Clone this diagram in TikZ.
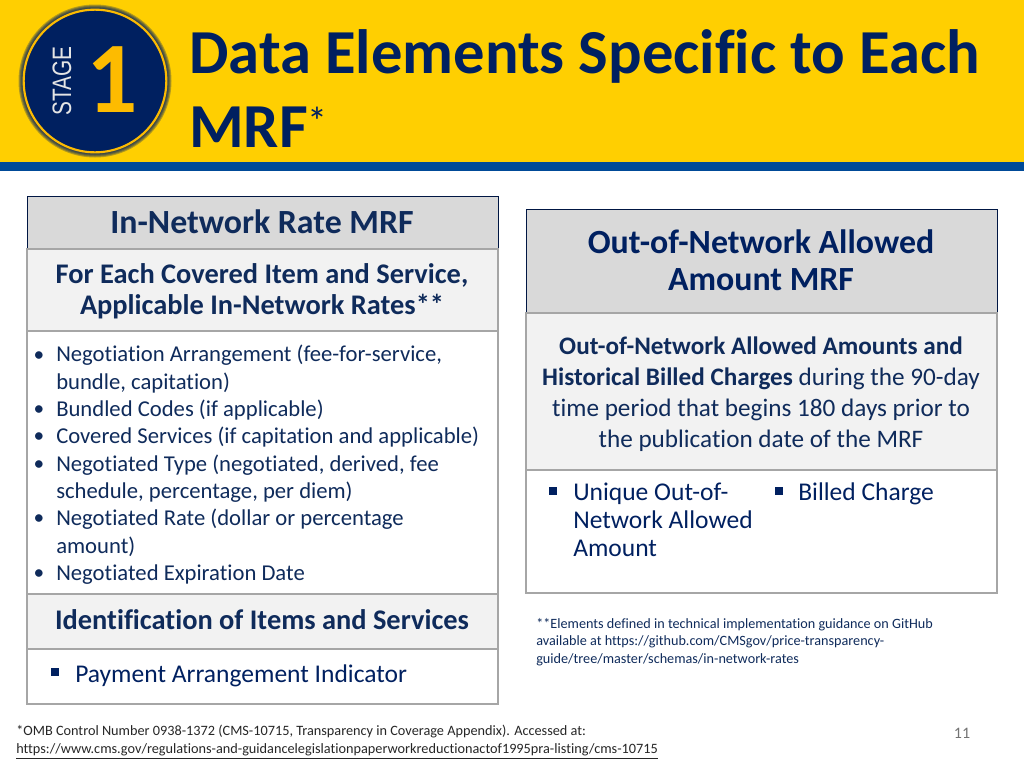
\documentclass[tikz,border=0pt]{standalone}
\usepackage{fontspec}
\setmainfont[Ligatures=NoCommon]{Carlito}
\newfontfamily\stagefont{Liberation Sans}
\usetikzlibrary{positioning}

\definecolor{bannerYellow}{HTML}{FFCF01}
\definecolor{bannerBlue}{HTML}{004A98}
\definecolor{navy}{HTML}{002060}
\definecolor{ink}{HTML}{0F2B5B}
\definecolor{ringGold}{HTML}{FDBB00}
\definecolor{edgeGrey}{HTML}{A6A6A6}

\tikzset{
  headbox/.style={draw=navy!70!black, line width=0.6pt, fill=black!15, minimum width=471*0.75pt, inner sep=0pt, outer sep=0pt},
  subbox/.style={draw=edgeGrey, line width=0.9pt, fill=black!5, minimum width=471*0.75pt, inner sep=0pt, outer sep=0pt},
  bodybox/.style={draw=edgeGrey, line width=0.9pt, fill=white, minimum width=471*0.75pt, inner sep=0pt, outer sep=0pt},
  headtext/.style={text=ink, font=\bfseries\fontsize{25.4}{28}\selectfont, align=center, inner sep=0pt},
  subtext/.style={text=ink, font=\bfseries\fontsize{21.3}{23}\selectfont, align=center, inner sep=0pt},
  listtext/.style={text=ink, font=\fontsize{17}{20.5}\selectfont, align=left, anchor=north west, inner sep=0pt},
  squaretext/.style={text=navy, font=\fontsize{19.15}{20.8}\selectfont, align=left, anchor=north west, inner sep=0pt},
  notetext/.style={text=ink, font=\fontsize{10.65}{13.2}\selectfont, align=left, anchor=north west, inner sep=0pt},
  bulletmark/.style={text=ink, font=\fontsize{16}{20.5}\selectfont, anchor=base, inner sep=0pt},
  squaremark/.style={fill=navy, minimum size=6pt, inner sep=0pt},
}

\begin{document}
\begin{tikzpicture}[x=0.75pt, y=-0.75pt]
  \useasboundingbox (0,0) rectangle (1024,768);

  % banner
  \fill[bannerYellow] (0,0) rectangle (1024,162);
  \fill[bannerBlue] (0,162) rectangle (1024,171);

  % stage badge
  \foreach \glow in {1,...,6}
    \fill[navy, opacity=0.3] (95,81) circle ({70.5+\glow});
  \node (badge) [circle, draw=ringGold, fill=navy, line width=1.6pt, minimum size=107pt, inner sep=0pt] at (95,81) {};
  \node (stage) [rotate=90, text=black!10, font=\stagefont\fontsize{20}{20}\selectfont, inner sep=0pt] at (62,81) {\scalebox{0.78}[1]{STAGE}};
  \node (one) [text=ringGold, font=\bfseries\fontsize{76}{76}\selectfont, inner sep=0pt] at (112,80) {1};

  % title
  \node (title) [text=navy, font=\bfseries\fontsize{46.95}{55.5}\selectfont, align=left, anchor=north west, inner sep=0pt] at (189,29)
    {Data Elements Specific to Each\\MRF\raisebox{0.4ex}{\fontsize{30}{30}\selectfont\mdseries*}};

  % left column
  \node (leftHead) [headbox, minimum height=53*0.75pt, anchor=north west] at (27,196) {};
  \node (leftSub) [subbox, minimum height=82*0.75pt, below=0pt of leftHead] {};
  \node (leftBody) [bodybox, minimum height=263*0.75pt, below=0pt of leftSub] {};
  \node (itemHead) [subbox, minimum height=55*0.75pt, below=0pt of leftBody] {};
  \node (itemBody) [bodybox, minimum height=55*0.75pt, below=0pt of itemHead] {};

  \node (leftHeadText) [headtext] at (262,222) {In-Network Rate MRF};
  \node (leftSubText) [subtext] at (262,291) {For Each Covered Item and Service,\\Applicable In-Network Rates**};
  \foreach \line in {0,2,3,4,6,8}
    \node [bulletmark] at (39,{361+27.33*\line}) {•};
  \node (rateList) [listtext] at (56,345) {Negotiation Arrangement (fee-for-service,\\bundle, capitation)\\Bundled Codes (if applicable)\\Covered Services (if capitation and applicable)\\Negotiated Type (negotiated, derived, fee\\schedule, percentage, per diem)\\Negotiated Rate (dollar or percentage\\amount)\\Negotiated Expiration Date};
  \node (itemHeadText) [subtext] at (262,620) {Identification of Items and Services};
  \node (itemMark) [squaremark] at (55,672) {};
  \node (itemText) [squaretext] at (75,664) {Payment Arrangement Indicator};

  % right column
  \node (rightHead) [headbox, minimum height=104*0.75pt, anchor=north west] at (526,209) {};
  \node (rightSub) [subbox, minimum height=157*0.75pt, below=0pt of rightHead] {};
  \node (rightBody) [bodybox, minimum height=123*0.75pt, below=0pt of rightSub] {};

  \node (rightHeadText) [headtext, text=navy] at (761,260) {Out-of-Network Allowed\\Amount MRF};
  \node (rightSubText) [subtext, font=\fontsize{18.9}{23.1}\selectfont] at (761,394)
    {\textbf{Out-of-Network Allowed Amounts and}\\\textbf{Historical Billed Charges} during the 90-day\\time period that begins 180 days prior to\\the publication date of the MRF};
  \node (allowMark) [squaremark] at (553,491) {};
  \node (allowText) [squaretext] at (573,483) {Unique Out-of-\\Network Allowed\\Amount};
  \node (billMark) [squaremark] at (779,491) {};
  \node (billText) [squaretext] at (798,482) {Billed Charge};

  % notes
  \node (gitNote) [notetext] at (536,618) {**Elements defined in technical implementation guidance on GitHub\\available at https://github.com/CMSgov/price-transparency-\\guide/tree/master/schemas/in-network-rates};
  \node (ombNote) [notetext, text=black!85, font=\fontsize{10.7}{13.5}\selectfont] at (16,725) {*OMB Control Number 0938-1372 (CMS-10715, Transparency in Coverage Appendix). Accessed at:\\\underline{https://www.cms.gov/regulations-and-guidancelegislationpaperworkreductionactof1995pra-listing/cms-10715}};
  \node (pageNum) [text=black!55, font=\fontsize{12}{14}\selectfont, inner sep=0pt] at (962,733) {11};
\end{tikzpicture}
\end{document}
